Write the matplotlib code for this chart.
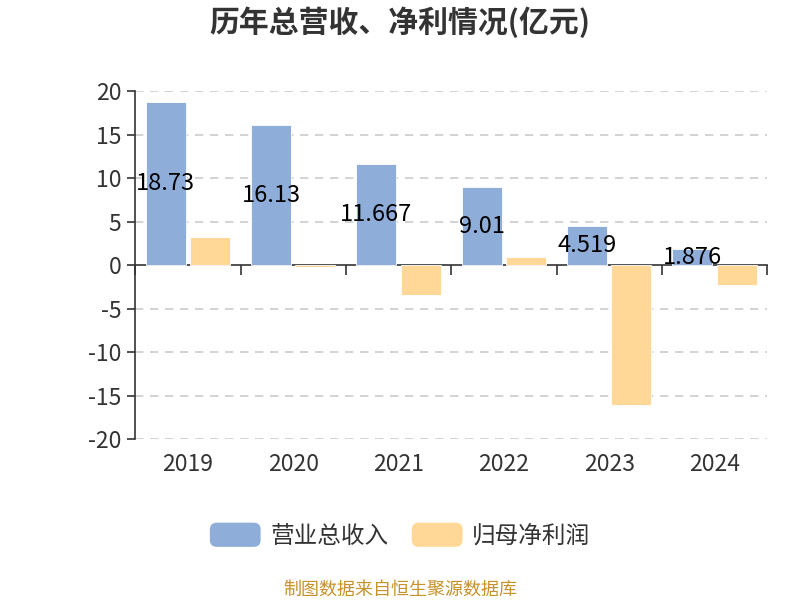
import numpy as np
import matplotlib
matplotlib.use('Agg')
import matplotlib.pyplot as plt
from matplotlib.patches import FancyBboxPatch, Patch
from matplotlib.legend_handler import HandlerPatch
import matplotlib.transforms as mtransforms

plt.rcParams['font.family'] = ['Noto Sans CJK SC', 'DejaVu Sans']

years = ['2019', '2020', '2021', '2022', '2023', '2024']
revenue = [18.73, 16.13, 11.667, 9.01, 4.519, 1.876]
net_profit = [3.2, -0.2, -3.45, 0.9, -16.1, -2.3]
revenue_labels = ['18.73', '16.13', '11.667', '9.01', '4.519', '1.876']

blue = '#8eadd9'
yellow = '#ffd897'
text_col = '#333333'

fig = plt.figure(figsize=(8, 6), dpi=100)
ax = fig.add_axes([0.169, 0.268, 0.79, 0.58])

x = np.arange(len(years))
w = 0.38
ax.bar(x - w / 2 - 0.02, revenue, w, color=blue, edgecolor='white', linewidth=0.6, zorder=3)
ax.bar(x + w / 2 + 0.02, net_profit, w, color=yellow, edgecolor='white', linewidth=0.6, zorder=3)

for xi, v, lab in zip(x, revenue, revenue_labels):
    ax.text(xi - w / 2 - 0.02, v / 2, lab, ha='center', va='center',
            fontsize=17, color='black', zorder=5)

ax.set_xlim(-0.5, len(years) - 0.5)
ax.set_ylim(-20, 20)
ax.set_yticks(np.arange(-20, 21, 5))
ax.set_yticklabels([str(v) for v in range(-20, 21, 5)], fontsize=16.5, color=text_col)
for v in range(-20, 21, 5):
    if v != 0:
        ax.axhline(v, color='#cccccc', linestyle=(0, (5, 4)), linewidth=1.2, zorder=1)

# x axis line at zero, ticks at category boundaries
ax.spines['bottom'].set_position(('data', 0))
ax.spines['bottom'].set_color(text_col)
ax.spines['bottom'].set_linewidth(1.2)
ax.spines['left'].set_color(text_col)
ax.spines['left'].set_linewidth(1.2)
ax.spines['top'].set_visible(False)
ax.spines['right'].set_visible(False)
ax.set_xticks(np.arange(-0.5, len(years), 1.0))
ax.set_xticklabels([])
ax.tick_params(axis='x', direction='out', length=7, width=1.2, color=text_col)
ax.tick_params(axis='y', direction='out', length=6, width=1.2, color=text_col, pad=4)

trans = mtransforms.blended_transform_factory(ax.transData, ax.transAxes)
for xi, yr in zip(x, years):
    ax.text(xi, -0.04, yr, transform=trans, ha='center', va='top', fontsize=16.5, color=text_col)

fig.text(0.5, 0.963, '历年总营收、净利情况(亿元)', ha='center', va='center',
         fontsize=21.5, fontweight='bold', color=text_col)


class RoundHandler(HandlerPatch):
    def create_artists(self, legend, orig_handle, xdescent, ydescent, width, height, fontsize, trans):
        p = FancyBboxPatch((-xdescent, -ydescent), width, height,
                           boxstyle='round,pad=0,rounding_size=5',
                           facecolor=orig_handle.get_facecolor(), edgecolor='none', transform=trans)
        return [p]


handles = [Patch(facecolor=blue, label='营业总收入'), Patch(facecolor=yellow, label='归母净利润')]
fig.legend(handles=handles, loc='center', bbox_to_anchor=(0.5, 0.108), ncol=2, frameon=False,
           fontsize=17, handlelength=2.15, handleheight=1.2, handletextpad=0.4, columnspacing=1.0,
           labelcolor=text_col, handler_map={Patch: RoundHandler()})

fig.text(0.5, 0.018, '制图数据来自恒生聚源数据库', ha='center', va='center',
         fontsize=13, color='#c8922a')

fig.savefig('out.png', dpi=100)
